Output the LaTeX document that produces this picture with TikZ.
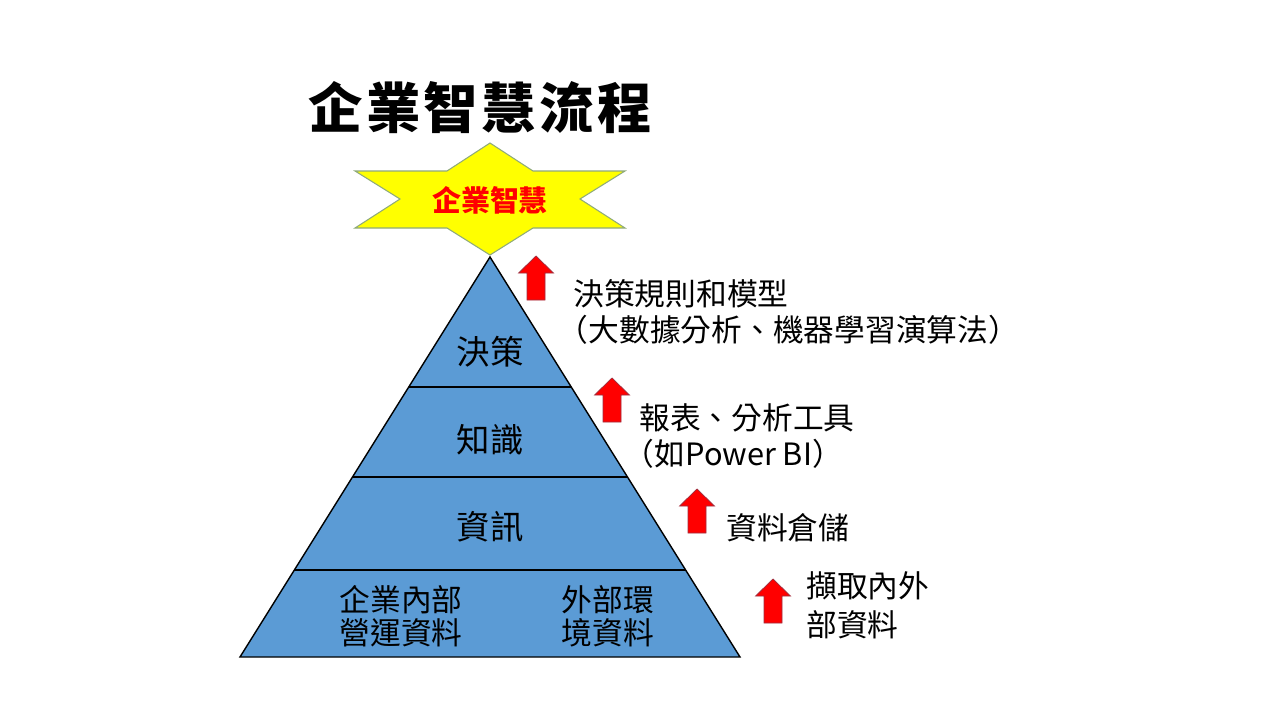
\documentclass[tikz,border=0pt]{standalone}
\usepackage{fontspec}
\usepackage{xcolor}
\usetikzlibrary{positioning,calc}
\setmainfont{Noto Sans CJK TC}
\definecolor{pyrblue}{HTML}{5B9BD5}
\definecolor{staryel}{HTML}{FFFF00}
\definecolor{staredge}{HTML}{8FAA7A}
\definecolor{arrred}{HTML}{FF0000}
\definecolor{arredge}{HTML}{9C2F3F}
\tikzset{
  layertext/.style={font=\fontsize{19pt}{22pt}\selectfont,inner sep=0pt},
  basetext/.style={font=\fontsize{17.5pt}{18.7pt}\selectfont,align=center,inner sep=0pt},
  sidetext/.style={font=\fontsize{17.5pt}{20.4pt}\selectfont,align=left,anchor=west,inner sep=0pt},
  redarr/.style={fill=arrred,draw=arredge,line width=0.4pt},
  layerline/.style={draw=black,line width=0.6pt}
}
\newcommand\uparr[2]{%
  \draw[redarr,shift={(#1,#2)}] (-9,22) -- (9,22) -- (9,-5) -- (17.5,-5)
    -- (0,-22) -- (-17.5,-5) -- (-9,-5) -- cycle;}
\newcommand\lparen{\kern-0.5em（}
\begin{document}
\begin{tikzpicture}[x=0.02cm,y=-0.02cm]
  \useasboundingbox[fill=white] (0,0) rectangle (1280,720);

  % title
  \node[font=\fontsize{31pt}{34pt}\selectfont\bfseries\addfontfeatures{LetterSpace=6}] (title) at (480,108) {企業智慧流程};

  % star on top
  \draw[fill=staryel,draw=staredge,line width=0.6pt]
    (490,143) -- (533,171) -- (625,171) -- (580,199) -- (625,228) -- (533,228)
    -- (490,255) -- (447,228) -- (355,228) -- (400,199) -- (355,171) -- (447,171) -- cycle;
  \node[font=\fontsize{16.5pt}{18pt}\selectfont\bfseries,text=arrred] (bi) at (490,200) {企業智慧};

  % pyramid
  \coordinate (apex) at (490,257);
  \coordinate (bl) at (240,657);
  \coordinate (br) at (740,657);
  \draw[fill=pyrblue,draw=black,line width=0.8pt] (apex) -- (br) -- (bl) -- cycle;
  \foreach \yy in {387,477,570}
    \draw[layerline] ($(apex)!{(\yy-257)/400}!(bl)$) -- ($(apex)!{(\yy-257)/400}!(br)$);

  \node[layertext] (decide) at (490,352) {決策};
  \node[layertext] (know) at (490,440) {知識};
  \node[layertext] (info) at (490,527) {資訊};
  \node[basetext] (inner) at (401,616) {企業內部\\營運資料};
  \node[basetext] (outer) at (608,616) {外部環\\境資料};

  % arrows and notes
  \uparr{536}{278}
  \uparr{612}{400}
  \uparr{697}{511}
  \uparr{773}{601}
  \node[sidetext] (rules) at (573,312) {決策規則和模型\\\lparen 大數據分析、機器學習演算法）};
  \node[sidetext] (tools) at (639,436) {報表、分析工具\\\lparen 如Power BI）};
  \node[sidetext] (dw) at (726,528) {資料倉儲};
  \node[sidetext,font=\fontsize{17.5pt}{22pt}\selectfont] (etl) at (806,605) {擷取內外\\部資料};
\end{tikzpicture}
\end{document}
